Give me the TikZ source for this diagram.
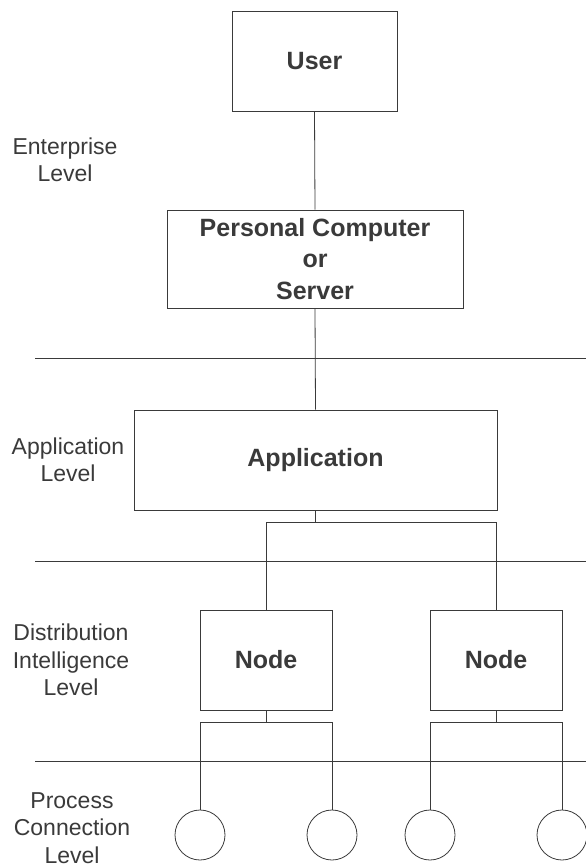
\documentclass[tikz,border=0pt]{standalone}
\usepackage{fontspec}
\setmainfont{Liberation Sans}
\usetikzlibrary{positioning}

\definecolor{ink}{HTML}{3A3A3A}

\tikzset{
	box/.style = {draw = ink, line width = 0.8pt, inner sep = 0pt,
		font = \fontsize{25}{31.5}\selectfont\bfseries, text = ink, align = center},
	point/.style = {draw = ink, line width = 0.8pt, circle, inner sep = 0pt, minimum size = 50},
	level/.style = {font = \fontsize{23}{27.5}\selectfont, text = ink, align = center},
	wire/.style = {draw = ink, line width = 0.8pt}
}

\begin{document}
\begin{tikzpicture}[x = 1pt, y = -1pt]

	\useasboundingbox (0, 0) rectangle (586, 867);

	% Level separators

	\begin{scope}[wire, line width = 0.7pt]
	
		\draw (35, 358) -- (586, 358);
		\draw (35, 561) -- (586, 561);
		\draw (35, 761) -- (586, 761);
		
	\end{scope}

	% Level names

	\node [level] (enterprise) at (65, 160) {Enterprise\\Level};
	\node [level] (application) at (68, 460) {Application\\Level};
	\node [level] (distribution) at (71, 660) {Distribution\\Intelligence\\Level};
	\node [level] (process) at (72, 828) {Process\\Connection\\Level};

	% Boxes

	\node [box, minimum width = 165, minimum height = 100] (user) at (314.5, 61) {User};
	\node [box, minimum width = 296, minimum height = 98] (pc) at (315, 259) {Personal Computer\\or\\Server};
	\node [box, minimum width = 363, minimum height = 100] (app) at (315.5, 460) {Application};
	\node [box, minimum width = 132, minimum height = 100] (nodeA) at (266, 660) {Node};
	\node [box, minimum width = 132, minimum height = 100] (nodeB) at (496, 660) {Node};

	% Field points

	\node [point] (p1) at (200, 835) {};
	\node [point] (p2) at (332, 835) {};
	\node [point] (p3) at (430, 835) {};
	\node [point] (p4) at (562, 835) {};

	% Connections

	\begin{scope}[wire]
	
		\draw (user.south) -- (pc.north);
		\draw (pc.south) -- (app.north);
		
		\draw (app.south) -- ++(0, 12) coordinate (appbus);
		\draw (nodeA.north) |- (appbus) -| (nodeB.north);
		
		\draw (nodeA.south) -- ++(0, 12) coordinate (busA);
		\draw (p1.north) |- (busA) -| (p2.north);
		
		\draw (nodeB.south) -- ++(0, 12) coordinate (busB);
		\draw (p3.north) |- (busB) -| (p4.north);
		
	\end{scope}

\end{tikzpicture}
\end{document}
